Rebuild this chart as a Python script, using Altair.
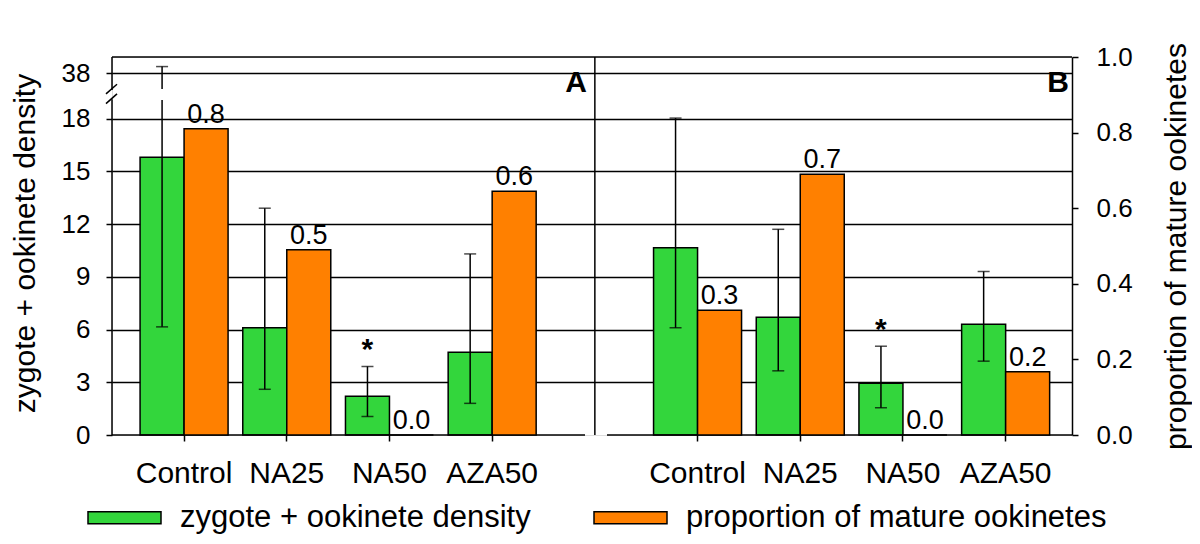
import altair as alt
import pandas as pd

# ---------------- data ----------------
treatments = ["Control", "NA25", "NA50", "AZA50"]
panels = ["A", "B"]

density_A = [15.8, 6.1, 2.2, 4.7]
err_low_A = [6.15, 2.6, 1.05, 1.8]
err_high_A = [41.0, 12.9, 3.9, 10.3]
prop_A = [0.81, 0.49, 0.0, 0.645]
signif_A = ["", "", "*", ""]

density_B = [10.65, 6.7, 2.95, 6.3]
err_low_B = [6.1, 3.65, 1.55, 4.2]
err_high_B = [18.2, 11.7, 5.05, 9.3]
prop_B = [0.33, 0.69, 0.0, 0.167]
signif_B = ["", "", "*", ""]

left_ticks = [0, 3, 6, 9, 12, 15, 18, 38]
right_ticks = [0.0, 0.2, 0.4, 0.6, 0.8, 1.0]
series_names = ["zygote + ookinete density", "proportion of mature ookinetes"]
colors = ["#33D63C", "#FF8000"]

# broken left axis: values above 18 are compressed
BREAK_AT = 18.0
BREAK_FACTOR = 0.1285
GAP_LO, GAP_HI = 19.05, 19.68   # display units where the break gap sits
LEFT_TOP = 21.5                 # display-unit top of the frame


def brk(v):
    return v if v <= BREAK_AT else BREAK_AT + (v - BREAK_AT) * BREAK_FACTOR


gap_key = "gap"
keys = [f"A:{t}" for t in treatments] + [gap_key] + [f"B:{t}" for t in treatments]

dens_rows, prop_rows, err_rows = [], [], []
for panel, dens, lo, hi, prop, sig in [
    ("A", density_A, err_low_A, err_high_A, prop_A, signif_A),
    ("B", density_B, err_low_B, err_high_B, prop_B, signif_B),
]:
    for i, t in enumerate(treatments):
        k = f"{panel}:{t}"
        dens_rows.append({"key": k, "series": series_names[0], "disp": brk(dens[i])})
        prop_rows.append({"key": k, "series": series_names[1], "prop": prop[i]})
        hd = brk(hi[i])
        err_rows.append({
            "key": k, "series": series_names[0],
            "lo_d": brk(lo[i]), "hi_d": hd,
            "seg1_hi": min(hd, GAP_LO), "seg2_lo": GAP_HI,
            "sig": sig[i],
        })

df_g = pd.DataFrame(dens_rows)
df_o = pd.DataFrame(prop_rows)
df_e = pd.DataFrame(err_rows)

# ---------------- scales & axes ----------------
font = "Liberation Sans"
xscale = alt.Scale(domain=keys, paddingInner=0, paddingOuter=0.174, align=0.58)
offscale = alt.Scale(domain=series_names, paddingInner=0, paddingOuter=0.167)
cscale = alt.Scale(domain=series_names, range=colors)
lscale = alt.Scale(domain=[0, LEFT_TOP], nice=False, zero=True)
rscale = alt.Scale(domain=[0, 1.0], nice=False)

left_disp = [brk(t) for t in left_ticks]
label_expr = ""
for d, t in zip(left_disp, left_ticks):
    label_expr += f"abs(datum.value - {d:.4f}) < 0.01 ? '{t}' : "
label_expr += "''"

xaxis = alt.Axis(
    title=None,
    labelExpr="datum.value == 'gap' ? '' : split(datum.value, ':')[1]",
    labelAngle=0, labelFontSize=30, labelColor="black", labelPadding=17,
    labelOverlap=False, tickColor="black", tickWidth=1.5, tickSize=6,
    tickOpacity={"condition": {"test": "datum.value == 'gap'", "value": 0}, "value": 1},
    domain=False, grid=False,
)
laxis = alt.Axis(
    values=left_disp, labelExpr=label_expr,
    grid=True, gridColor="black", gridWidth=1.5,
    gridOpacity={"condition": {"test": "datum.value < 0.5", "value": 0}, "value": 1},
    domain=False, tickColor="black", tickWidth=1.5, tickSize=6,
    labelFontSize=26, labelColor="black", labelPadding=16,
    title="zygote + ookinete density", titleFontSize=30, titleFontWeight="normal",
    titleColor="black", titleAngle=270, titleX=-78, titleY=186,
    titleAlign="center", titleBaseline="alphabetic",
)
raxis = alt.Axis(
    orient="right", values=right_ticks, format=".1f", grid=False,
    domain=True, domainColor="black", domainWidth=1.5,
    tickColor="black", tickWidth=1.5, tickSize=6,
    labelFontSize=26, labelColor="black", labelPadding=18,
    title="proportion of mature ookinetes", titleFontSize=30, titleFontWeight="normal",
    titleColor="black", titleAngle=270, titleX=113, titleY=189,
    titleAlign="center", titleBaseline="alphabetic",
)
legend = alt.Legend(
    orient="none", legendX=-25, legendY=423, direction="horizontal", title=None,
    symbolType="M-1,-0.164H1V0.164H-1Z", symbolSize=5329,
    symbolStrokeColor="black", symbolStrokeWidth=1.5, symbolOpacity=1,
    labelFontSize=31, labelColor="black", labelOffset=18, columnPadding=60,
    labelLimit=0, padding=0,
)

X = alt.X("key:N", scale=xscale, axis=xaxis)
XO = alt.XOffset("series:N", scale=offscale)


def YL(field):
    return alt.Y(field, scale=lscale, axis=laxis)


# ---------------- left (density) layers ----------------
green = alt.Chart(df_g).mark_bar(stroke="black", strokeWidth=1.5).encode(
    x=X, xOffset=XO, y=YL("disp:Q"),
    color=alt.Color("series:N", scale=cscale, legend=legend),
)
err1 = alt.Chart(df_e).mark_rule(color="black", strokeWidth=1.5).encode(
    x=X, xOffset=XO, y=YL("lo_d:Q"), y2="seg1_hi:Q"
)
err2 = alt.Chart(df_e).transform_filter(f"datum.hi_d > {GAP_HI}").mark_rule(
    color="black", strokeWidth=1.5
).encode(x=X, xOffset=XO, y=YL("seg2_lo:Q"), y2="hi_d:Q")
cap_lo = alt.Chart(df_e).mark_tick(orient="horizontal", size=12, thickness=1.5, color="black").encode(
    x=X, xOffset=XO, y=YL("lo_d:Q")
)
cap_hi = alt.Chart(df_e).mark_tick(orient="horizontal", size=12, thickness=1.5, color="black").encode(
    x=X, xOffset=XO, y=YL("hi_d:Q")
)
stars = alt.Chart(df_e).mark_text(
    fontSize=30, fontWeight="bold", baseline="alphabetic", dy=-7, color="black"
).encode(x=X, xOffset=XO, y=YL("hi_d:Q"), text="sig:N")

frame_left = alt.Chart(pd.DataFrame({"y": [0, GAP_HI - 0.05], "y2": [GAP_LO + 0.05, LEFT_TOP]})).mark_rule(
    color="black", strokeWidth=1.5
).encode(x=alt.value(0), y=YL("y:Q"), y2="y2:Q")
slashes = alt.Chart(pd.DataFrame({"y": [18.85, 19.40], "y2": [19.40, 19.95]})).mark_rule(
    color="black", strokeWidth=1.5
).encode(x=alt.value(-6), x2=alt.value(5), y=YL("y:Q"), y2="y2:Q")
frame_top = alt.Chart(pd.DataFrame({"k": [0]})).mark_rule(color="black", strokeWidth=1.5).encode(
    x=alt.value(0), x2=alt.value("width"), y=alt.value(0)
)
bottom = alt.Chart(pd.DataFrame({"x": [0, 495], "x2": [473, 960]})).mark_rule(
    color="black", strokeWidth=1.5
).encode(x=alt.X("x:Q", scale=None), x2="x2:Q", y=alt.value("height"))
divider = alt.Chart(pd.DataFrame({"key": [gap_key]})).mark_rule(color="black", strokeWidth=1.5).encode(
    x=X, y=alt.value(0), y2=alt.value("height")
)
letter_a = alt.Chart(pd.DataFrame({"key": [gap_key], "t": ["A"]})).mark_text(
    fontSize=30, fontWeight="bold", align="right", baseline="alphabetic", dx=-8, color="black"
).encode(x=X, y=alt.value(35), text="t:N")
letter_b = alt.Chart(pd.DataFrame({"t": ["B"]})).mark_text(
    fontSize=30, fontWeight="bold", align="right", baseline="alphabetic", dx=-3, color="black"
).encode(x=alt.value("width"), y=alt.value(35), text="t:N")

left = alt.layer(green, err1, err2, cap_lo, cap_hi, stars, frame_left, slashes,
                 frame_top, bottom, divider, letter_a, letter_b)

# ---------------- right (proportion) layers ----------------
orange = alt.Chart(df_o).mark_bar(stroke="black", strokeWidth=1.5).encode(
    x=X, xOffset=XO, y=alt.Y("prop:Q", scale=rscale, axis=raxis),
    color=alt.Color("series:N", scale=cscale, legend=legend),
)
prop_labels = alt.Chart(df_o).mark_text(fontSize=27, baseline="alphabetic", dy=-6, color="black").encode(
    x=X, xOffset=XO, y=alt.Y("prop:Q", scale=rscale, axis=raxis),
    text=alt.Text("prop:Q", format=".1f"),
)
right = alt.layer(orange, prop_labels)

chart = (
    alt.layer(left, right)
    .resolve_scale(y="independent")
    .properties(
        width=960, height=378,
        autosize=alt.AutoSizeParams(type="none"),
        padding={"left": 104, "top": 49, "right": 120, "bottom": 101},
    )
    .configure_view(stroke=None)
    .configure(font=font)
)

chart.save("out.html", embed_options={"renderer": "svg", "actions": False})
